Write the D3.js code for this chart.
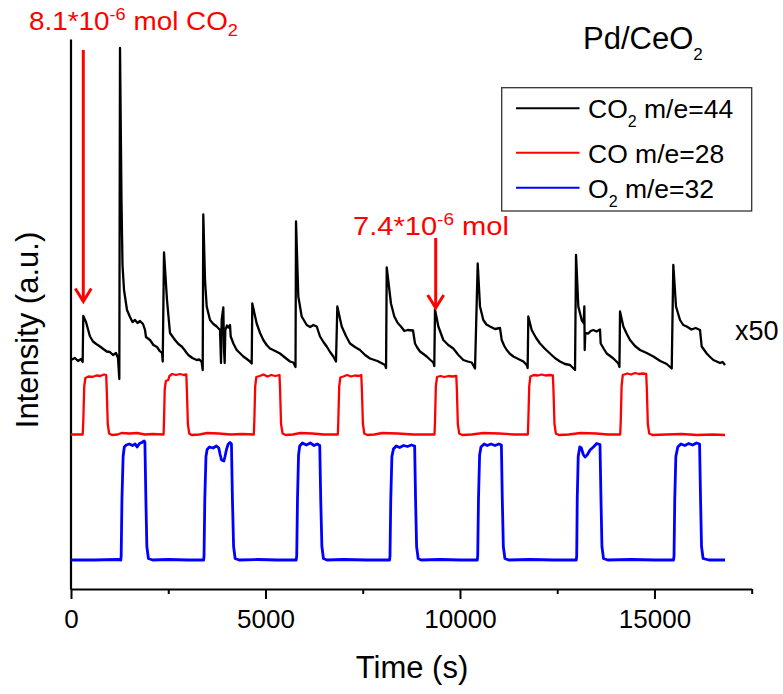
<!DOCTYPE html>
<html><head><meta charset="utf-8">
<script src="https://cdn.jsdelivr.net/npm/d3@7"></script>
<style>
body{margin:0;background:#fff}
text{font-family:"Liberation Sans",Arial,sans-serif;fill:#000}
</style>
</head><body><svg id="c" width="783" height="694"></svg>
<script>
// Time (s) and intensity (a.u.) readings
const co2 = [[0,45.8],[100,46.2],[180,45.6],[260,46.0],[300,45.4],
[316,54.6],[386,53.4],[488,50.5],[566,49.5],[650,49.0],[746,48.5],[830,48.0],[918,47.5],[1000,47.4],[1080,46.8],[1157,47.2],[1208,46.2],
[1242,42.0],[1260,108.2],[1298,77.8],[1324,64.8],[1363,59.8],[1440,55.8],[1517,54.4],[1580,53.4],[1645,53.8],[1710,53.2],[1774,53.6],[1851,53.0],[1903,51.8],[1928,50.4],[2031,49.8],[2120,48.8],[2211,48.4],[2280,47.6],[2340,47.2],[2358,45.5],
[2391,67.3],[2468,57.8],[2545,51.2],[2600,50.6],[2674,49.8],[2760,49.0],[2846,48.5],[2920,47.8],[2975,47.2],[3016,46.8],[3120,46.2],[3232,45.8],[3300,45.9],[3360,45.4],[3386,43.8],
[3401,74.9],[3445,61.8],[3489,56.5],[3574,53.8],[3660,53.0],[3746,52.5],[3831,51.8],[3857,45.2],[3874,53.8],[3916,56.3],[3934,47.8],[3951,45.2],[3967,51.8],[4011,52.7],[4050,52.3],[4088,52.8],[4106,50.5],[4180,49.0],[4260,47.8],[4340,47.2],[4430,46.5],[4520,46.0],[4602,45.5],[4646,45.1],
[4661,57.1],[4774,53.1],[4860,51.2],[4944,49.8],[5030,48.8],[5116,48.1],[5250,47.6],[5373,47.1],[5500,46.3],[5630,45.5],[5716,45.3],[5772,44.4],
[5785,73.5],[5844,58.5],[5931,54.5],[6060,52.8],[6150,52.4],[6230,52.8],[6317,52.5],[6402,50.5],[6490,49.4],[6574,48.5],[6660,47.4],[6745,46.5],[6813,45.5],
[6847,56.5],[6960,52.5],[7070,50.6],[7173,49.1],[7300,48.4],[7430,47.8],[7560,46.8],[7687,46.1],[7880,45.6],[8073,44.8],[8100,44.2],
[8117,64.3],[8226,57.1],[8312,54.5],[8400,53.2],[8483,52.5],[8570,51.6],[8655,51.8],[8793,51.7],[8844,49.1],[8900,48.3],[8973,47.5],[9060,47.0],[9145,46.5],[9240,45.8],[9315,45.3],[9340,44.6],
[9358,55.9],[9444,52.5],[9572,49.8],[9700,48.8],[9829,48.1],[9960,46.8],[10086,45.8],[10200,45.5],[10302,45.3],[10387,44.1],
[10456,65.1],[10515,56.5],[10600,53.8],[10680,52.9],[10772,52.5],[10900,52.0],[11029,52.2],[11073,49.8],[11140,48.6],[11202,47.8],[11290,47.0],[11373,46.5],[11500,46.0],[11630,45.5],[11716,44.8],[11740,44.2],
[11757,54.5],[11844,51.8],[11950,50.3],[12058,49.1],[12190,48.0],[12315,47.1],[12440,46.2],[12572,45.5],[12700,45.0],[12829,44.8],[12958,43.8],
[12984,66.8],[13043,56.5],[13130,53.8],[13180,53.2],[13197,56.5],[13207,47.8],[13222,51.2],[13300,51.1],[13360,51.6],[13428,51.8],[13510,51.5],[13600,51.9],[13618,49.1],[13700,48.0],[13773,47.1],[13860,46.6],[13944,46.1],[14010,45.6],[14072,45.1],[14100,44.4],
[14115,55.5],[14200,52.5],[14290,51.0],[14372,49.8],[14500,48.6],[14629,47.8],[14801,47.2],[14972,46.5],[15150,45.6],[15315,45.0],[15444,44.1],
[15485,64.8],[15554,56.5],[15657,53.8],[15740,52.8],[15829,52.5],[15950,51.9],[16060,52.2],[16171,51.8],[16214,48.5],[16280,47.8],[16343,47.1],[16430,46.4],[16514,45.8],[16600,45.5],[16686,45.2],[16750,45.4],[16814,44.8]];

const co = [[0,30.9],[300,30.9],[316,33.5],[340,40.5],[370,42.2],[450,42.5],[550,42.4],[650,42.7],[750,42.6],[850,42.9],[905,42.8],[918,40],[945,33],[980,31.1],[1050,30.8],[1200,30.9],[1300,31.2],[1500,31.1],[1700,31.2],[1900,30.9],[2100,31.0],[2380,30.9],
[2391,33.5],[2410,40.0],[2440,41.6],[2500,41.8],[2530,42.6],[2600,43.0],[2700,42.8],[2800,43.0],[2900,42.8],[2965,42.9],[2978,40],[3005,33],[3040,31.1],[3100,30.8],[3300,30.9],[3500,31.2],[3800,31.1],[4100,30.9],[4400,31.0],[4700,30.9],
[4713,33.5],[4735,40.5],[4765,42.4],[4850,42.6],[4950,42.9],[5050,42.5],[5150,42.8],[5250,42.6],[5360,42.8],[5375,40],[5400,33],[5440,31.1],[5520,30.8],[5700,30.9],[5900,31.2],[6200,31.1],[6500,30.9],[6860,30.9],
[6872,33.5],[6895,40.5],[6925,42.3],[7000,42.5],[7100,42.8],[7200,42.5],[7300,42.7],[7400,42.6],[7462,42.8],[7478,40],[7505,33],[7540,31.1],[7620,30.8],[7800,30.9],[8000,31.2],[8400,31.1],[8800,30.9],[9345,30.9],
[9358,33.5],[9380,40.5],[9410,42.4],[9500,42.6],[9600,42.4],[9700,42.6],[9800,42.5],[9905,42.6],[9920,40],[9945,33],[9980,31.1],[10060,30.8],[10300,30.9],[10600,31.2],[11000,31.1],[11400,30.9],[11745,30.9],
[11757,33.5],[11780,40.5],[11810,42.5],[11900,42.8],[12000,42.7],[12100,42.9],[12200,42.7],[12300,42.8],[12388,42.7],[12403,40],[12430,33],[12465,31.1],[12540,30.8],[12800,30.9],[13100,31.2],[13500,31.1],[13800,30.9],[14120,30.9],
[14133,33.5],[14155,40.5],[14185,42.8],[14300,43.1],[14400,42.9],[14500,43.2],[14600,43.0],[14700,43.1],[14788,43.0],[14804,40],[14830,33],[14865,31.1],[14950,30.8],[15300,30.9],[15700,31.0],[16100,30.8],[16500,30.9],[16814,30.8]];

const o2 = [[0,5.8],[600,5.8],[1200,5.9],[1280,5.8],[1290,6.6],[1310,18],[1340,26.5],[1370,28.4],[1420,28.8],[1500,29.0],[1580,28.7],[1650,29.0],[1700,28.4],[1760,29.1],[1820,29.3],[1880,29.6],[1900,29.3],[1925,18],[1950,8.5],[1990,6.1],[2100,5.8],[2500,5.9],[3000,5.8],[3410,5.8],
[3420,6.6],[3440,18],[3470,26.5],[3500,27.9],[3560,28.4],[3650,28.2],[3740,28.6],[3800,28.2],[3831,27.0],[3870,25.8],[3930,25.6],[3959,26.5],[4000,28.0],[4044,29.0],[4088,29.3],[4125,29.0],[4150,18],[4180,8.5],[4220,6.1],[4320,5.8],[4800,5.9],[5300,5.8],[5790,5.8],
[5803,6.6],[5823,18],[5850,26.8],[5880,28.6],[5950,29.2],[6050,28.8],[6150,29.2],[6250,28.7],[6330,29.0],[6395,28.7],[6420,18],[6450,8.5],[6490,6.1],[6580,5.8],[7000,5.9],[7600,5.8],[8190,5.8],
[8201,6.6],[8221,18],[8250,26.5],[8290,28.0],[8360,28.6],[8450,28.3],[8550,28.7],[8650,28.5],[8750,28.8],[8835,28.6],[8858,18],[8885,8.5],[8925,6.1],[9000,5.8],[9500,5.9],[10000,5.8],[10445,5.8],
[10456,6.6],[10476,18],[10505,26.8],[10540,28.4],[10620,29.0],[10700,28.7],[10800,29.0],[10900,28.7],[11000,29.0],[11065,28.8],[11088,18],[11115,8.5],[11155,6.1],[11250,5.8],[11800,5.9],[12400,5.8],[12990,5.8],
[13001,6.6],[13015,18],[13040,26.5],[13080,28.4],[13120,28.2],[13170,26.9],[13215,26.4],[13270,26.8],[13344,27.8],[13430,28.4],[13516,29.1],[13600,28.9],[13625,18],[13650,8.5],[13690,6.1],[13800,5.8],[14400,5.9],[15000,5.8],[15490,5.8],
[15503,6.6],[15522,18],[15550,26.5],[15600,28.4],[15680,29.0],[15780,28.7],[15880,29.1],[15980,28.8],[16080,29.2],[16160,29.0],[16185,18],[16210,8.5],[16250,6.1],[16400,5.8],[16814,5.8]];

const seriesNames = ["CO₂ m/e=44","CO m/e=28","O₂ m/e=32"];
const seriesColors = ["#000000","#ff0000","#0000ff"];
const xMajorTicks = [0,5000,10000,15000];
const xMinorTicks = [2500,7500,12500,17500];
const arrowTimes = [316, 9376];
const arrowFrom = [107.8, 70.2];
const arrowTo = [57.5, 56.2];

const svg = d3.select("#c");
const x = d3.scaleLinear().domain([0,17500]).range([71,751.7]);
const y = d3.scaleLinear().domain([0,110]).range([589,39]);

// axes
const gx = svg.append("g").attr("transform","translate(0,589)")
  .call(d3.axisBottom(x).tickValues(xMajorTicks).tickSize(10).tickSizeOuter(0).tickFormat(d3.format("d")));
gx.select(".domain").attr("stroke","#000").attr("stroke-width",2.2);
gx.selectAll(".tick line").attr("stroke","#000").attr("stroke-width",2);
gx.selectAll(".tick text").attr("font-family","Liberation Sans, Arial, sans-serif").attr("font-size",26).attr("dy",0).attr("y",39).attr("fill","#000");
const gm = svg.append("g").attr("transform","translate(0,589)")
  .call(d3.axisBottom(x).tickValues(xMinorTicks).tickSize(5).tickFormat(""));
gm.select(".domain").remove();
gm.selectAll(".tick line").attr("stroke","#000").attr("stroke-width",2);

const gy = svg.append("g").attr("transform","translate(70.5,0)")
  .call(d3.axisLeft(y).tickValues([]).tickSizeOuter(0));
gy.select(".domain").attr("stroke","#000").attr("stroke-width",2.2);

// lines
const line = d3.line().x(d=>x(d[0])).y(d=>y(d[1]));
[[co2,"#000",2.3],[co,"#ff0000",2.3],[o2,"#0000ff",2.8]].forEach(([data,c,w])=>{
  svg.append("path").datum(data).attr("d",line).attr("fill","none").attr("stroke",c)
    .attr("stroke-width",w).attr("stroke-linejoin","round");
});

// arrows
arrowTimes.forEach((t,i)=>{
  const ax = x(t), y0 = y(arrowFrom[i]), y1 = y(arrowTo[i]);
  svg.append("line").attr("x1",ax).attr("x2",ax).attr("y1",y0).attr("y2",y1-1)
    .attr("stroke","#ff0000").attr("stroke-width",3);
  svg.append("path").attr("d",`M${ax-8},${y1-13}L${ax},${y1}L${ax+8},${y1-13}`)
    .attr("fill","none").attr("stroke","#ff0000").attr("stroke-width",3);
});

// annotation texts
const a1 = svg.append("text").attr("x",29).attr("y",30).attr("font-size",26)
  .attr("font-family","Lato, 'Open Sans', sans-serif").attr("textLength",209).attr("lengthAdjust","spacingAndGlyphs").style("fill","#ff0000");
a1.append("tspan").text("8.1*10");
a1.append("tspan").attr("dy",-10).attr("font-size",17).text("-6");
a1.append("tspan").attr("dy",10).text(" mol CO");
a1.append("tspan").attr("dy",6).attr("font-size",17).text("2");

const a2 = svg.append("text").attr("x",353).attr("y",235).attr("font-size",26)
  .attr("font-family","Lato, 'Open Sans', sans-serif").attr("textLength",156).attr("lengthAdjust","spacingAndGlyphs").style("fill","#ff0000");
a2.append("tspan").text("7.4*10");
a2.append("tspan").attr("dy",-10).attr("font-size",17).text("-6");
a2.append("tspan").attr("dy",10).text(" mol");

// title
const tt = svg.append("text").attr("x",583).attr("y",49).attr("font-size",31);
tt.append("tspan").text("Pd/CeO");
tt.append("tspan").attr("dy",11).attr("font-size",17).text("2");

// x50
svg.append("text").attr("x",735).attr("y",340).attr("font-size",27).text("x50");

// legend
svg.append("rect").attr("x",501.7).attr("y",87.7).attr("width",250).attr("height",123.3)
  .attr("fill","none").attr("stroke","#333").attr("stroke-width",1.3);
const rowY = [108.3,152.7,187.7];
const labelMain = ["CO","CO m/e=28","O"];
const labelRest = [" m/e=44",null," m/e=32"];
seriesNames.forEach((n,i)=>{
  svg.append("line").attr("x1",516).attr("x2",579.5).attr("y1",rowY[i]).attr("y2",rowY[i])
    .attr("stroke",seriesColors[i]).attr("stroke-width",2);
  const t = svg.append("text").attr("x",588).attr("y",rowY[i]+10).attr("font-size",26.5);
  t.append("tspan").text(labelMain[i]);
  if(labelRest[i]){
    t.append("tspan").attr("dy",9).attr("font-size",16).text("2");
    t.append("tspan").attr("dy",-9).text(labelRest[i]);
  }
});

// axis titles
svg.append("text").attr("x",412).attr("y",678).attr("text-anchor","middle").attr("font-size",31).text("Time (s)");
svg.append("text").attr("transform","translate(38,330) rotate(-90)").attr("text-anchor","middle").attr("font-size",31).text("Intensity (a.u.)");
</script>
</body></html>
